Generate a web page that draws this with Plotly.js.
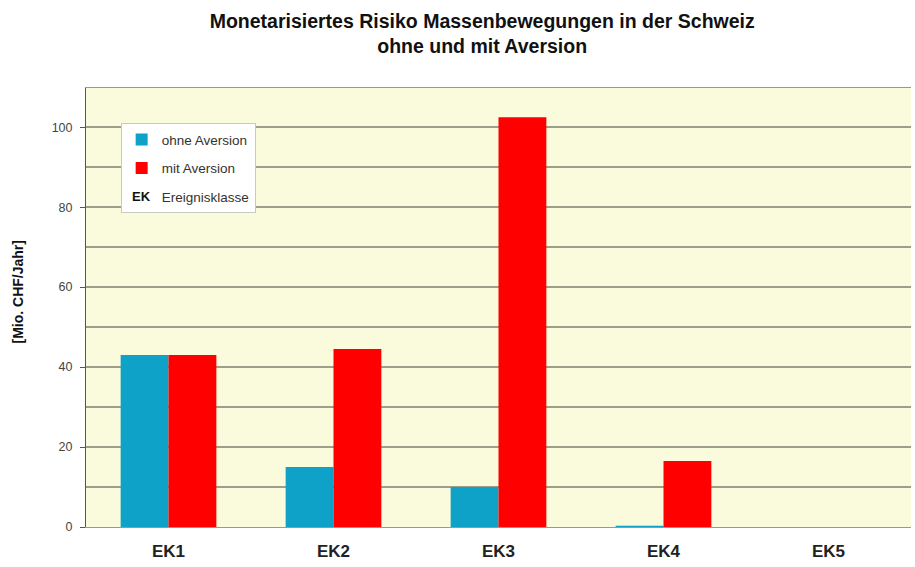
<!DOCTYPE html>
<html>
<head>
<meta charset="utf-8">
<script src="https://cdn.plot.ly/plotly-3.0.1.min.js"></script>
<style>html,body{margin:0;padding:0;background:#fff;}#chart{width:915px;height:567px;}</style>
</head>
<body>
<div id="chart"></div>
<script>
var categories = ["EK1", "EK2", "EK3", "EK4", "EK5"];
var ohneAversion = [43, 15, 10, 0.3, 0];
var mitAversion = [43, 44.5, 102.5, 16.5, 0];
var yTickVals = [0, 20, 40, 60, 80, 100];
var yTickText = ["0", "20", "40", "60", "80", "100"];

var font = "Liberation Sans, Arial, sans-serif";

var traces = [
  {type: "bar", name: "ohne Aversion", x: categories, y: ohneAversion,
   marker: {color: "#0fa2c9"}, legendgroup: "a"},
  {type: "bar", name: "mit Aversion", x: categories, y: mitAversion,
   marker: {color: "#ff0000"}, legendgroup: "b"},
  {type: "scatter", mode: "markers", name: "Ereignisklasse", x: categories, y: [null, null, null, null, null],
   marker: {color: "rgba(0,0,0,0)", size: 1}, legendgroup: "c", hoverinfo: "skip"}
];

var baseAnnotations = [{
  text: "<b>[Mio. CHF/Jahr]</b>", xref: "paper", yref: "paper",
  x: -0.082, y: 0.535, xanchor: "center", yanchor: "middle",
  textangle: -90, showarrow: false,
  font: {family: font, size: 14, color: "#111"}
}];

var layout = {
  width: 915, height: 567,
  margin: {l: 86, r: 4, t: 88, b: 40},
  paper_bgcolor: "#ffffff",
  plot_bgcolor: "#fafadc",
  font: {family: font, color: "#222"},
  title: {
    text: "<b>Monetarisiertes Risiko Massenbewegungen in der Schweiz<br>ohne und mit Aversion</b>",
    font: {family: font, size: 19.5, color: "#111"},
    xref: "container", x: 0.527, xanchor: "center",
    yref: "container", y: 0.951, yanchor: "middle"
  },
  barmode: "group",
  bargap: 0.42,
  bargroupgap: 0,
  xaxis: {
    type: "category",
    showline: true, linecolor: "#9a9a86", linewidth: 1, mirror: true,
    ticks: "", showgrid: false,
    tickfont: {family: font, size: 17, color: "#222", weight: "bold"},
    ticklabelstandoff: 9
  },
  yaxis: {
    range: [0, 109.8],
    tickvals: yTickVals, ticktext: yTickText,
    ticks: "outside", ticklen: 5, tickcolor: "#555",
    showline: true, linecolor: "#555", linewidth: 1,
    showgrid: true, gridcolor: "#9e9e8a", gridwidth: 1.5,
    minor: {dtick: 10, showgrid: true, gridcolor: "#9e9e8a", gridwidth: 1.5, ticks: ""},
    zeroline: false,
    ticklabelstandoff: 5,
    tickfont: {family: font, size: 12.5, color: "#444"}
  },
  showlegend: true,
  legend: {
    x: 0.042, y: 0.92, xanchor: "left", yanchor: "top",
    bgcolor: "#ffffff", bordercolor: "#c8c8c8", borderwidth: 1,
    font: {family: font, size: 13.5, color: "#333"},
    traceorder: "grouped", tracegroupgap: 8
  },
  annotations: baseAnnotations
};

Plotly.newPlot("chart", traces, layout, {displayModeBar: false, staticPlot: true}).then(function(gd){
  // place bold "EK" over the empty swatch of the third legend entry
  var items = gd.querySelectorAll(".legend .traces");
  if (items.length >= 3) {
    var r = items[2].querySelector(".legendpoints").getBoundingClientRect();
    var r0 = items[0].querySelector(".legendpoints").getBoundingClientRect();
    var cx = (r0.left + r0.right) / 2, cy = (r.top + r.bottom) / 2;
    var fl = gd._fullLayout;
    var px = (cx - fl.margin.l) / fl._size.w;
    var py = 1 - (cy - fl.margin.t) / fl._size.h;
    Plotly.relayout(gd, {annotations: baseAnnotations.concat([{
      text: "<b>EK</b>", xref: "paper", yref: "paper", x: px, y: py,
      xanchor: "center", yanchor: "middle", showarrow: false,
      font: {family: font, size: 13, color: "#111"}
    }])});
  }
});
</script>
</body>
</html>
